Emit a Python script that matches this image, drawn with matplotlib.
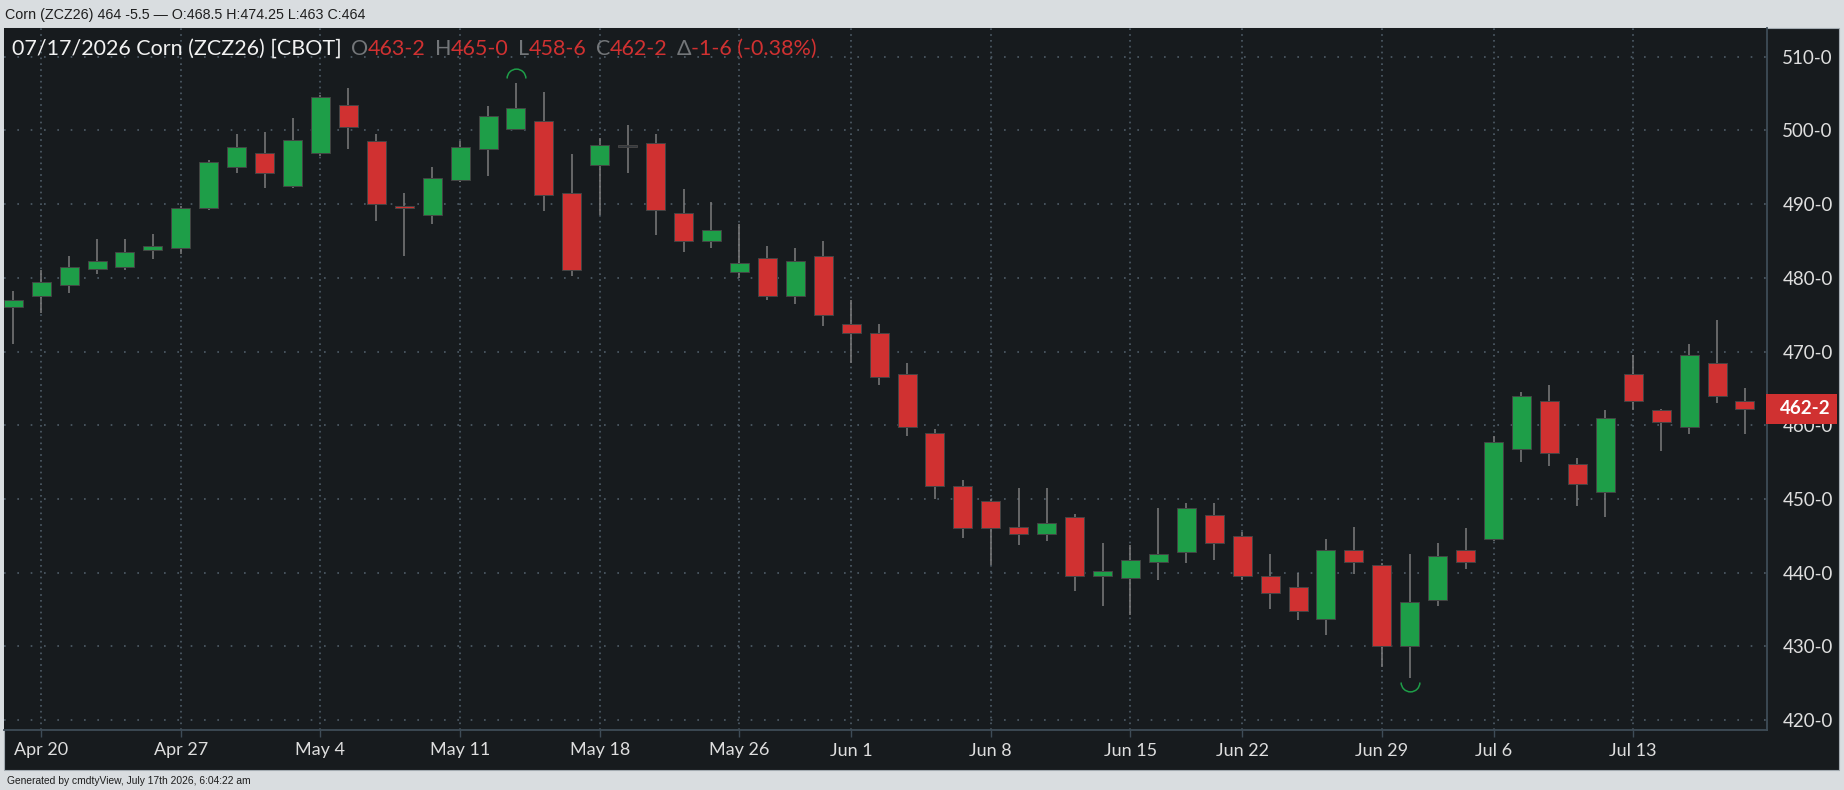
import matplotlib.pyplot as plt
import numpy as np
import pandas as pd
from matplotlib.path import Path
from matplotlib.patches import Rectangle
from matplotlib.ticker import FuncFormatter


# Daily OHLC for Corn (ZCZ26)
dates = [
    "2026-04-17", "2026-04-20", "2026-04-21", "2026-04-22", "2026-04-23", "2026-04-24",
    "2026-04-27", "2026-04-28", "2026-04-29", "2026-04-30", "2026-05-01",
    "2026-05-04", "2026-05-05", "2026-05-06", "2026-05-07", "2026-05-08",
    "2026-05-11", "2026-05-12", "2026-05-13", "2026-05-14", "2026-05-15",
    "2026-05-18", "2026-05-19", "2026-05-20", "2026-05-21", "2026-05-22",
    "2026-05-26", "2026-05-27", "2026-05-28", "2026-05-29",
    "2026-06-01", "2026-06-02", "2026-06-03", "2026-06-04", "2026-06-05",
    "2026-06-08", "2026-06-09", "2026-06-10", "2026-06-11", "2026-06-12",
    "2026-06-15", "2026-06-16", "2026-06-17", "2026-06-18",
    "2026-06-22", "2026-06-23", "2026-06-24", "2026-06-25", "2026-06-26",
    "2026-06-29", "2026-06-30", "2026-07-01", "2026-07-02",
    "2026-07-06", "2026-07-07", "2026-07-08", "2026-07-09", "2026-07-10",
    "2026-07-13", "2026-07-14", "2026-07-15", "2026-07-16", "2026-07-17",
]
opens = [476.0, 477.5, 479.0, 481.25, 481.5, 483.75,
         484.0, 489.5, 495.0, 497.0, 492.5,
         497.0, 503.5, 498.5, 489.75, 488.5,
         493.25, 497.5, 500.25, 501.25, 491.5,
         495.25, 497.75, 498.25, 488.75, 485.0,
         480.75, 482.75, 477.5, 483.0,
         473.75, 472.5, 467.0, 459.0, 451.75,
         449.75, 446.25, 445.25, 447.5, 439.5,
         439.25, 441.5, 442.75, 447.75,
         445.0, 439.5, 438.0, 433.75, 443.0,
         441.0, 430.0, 436.25, 443.0,
         444.5, 456.75, 463.25, 454.75, 451.0,
         467.0, 462.0, 459.75, 468.5, 463.25]
highs = [478.25, 481.0, 483.0, 485.25, 485.25, 486.0,
         489.75, 496.0, 499.5, 499.75, 501.75,
         504.75, 505.75, 499.5, 491.5, 495.0,
         498.5, 503.25, 506.5, 505.25, 496.75,
         499.0, 500.75, 499.5, 492.0, 490.25,
         487.25, 484.25, 484.0, 485.0,
         477.0, 473.75, 468.5, 459.5, 452.5,
         450.0, 451.5, 451.5, 448.0, 444.0,
         443.75, 448.75, 449.5, 449.5,
         445.5, 442.5, 440.0, 444.5, 446.25,
         441.25, 442.5, 444.0, 446.0,
         458.5, 464.5, 465.5, 455.5, 462.0,
         469.5, 462.25, 471.0, 474.25, 465.0]
lows = [471.0, 475.25, 478.0, 480.5, 481.0, 482.5,
        483.25, 489.25, 494.25, 492.25, 492.25,
        496.5, 497.5, 487.75, 483.0, 487.25,
        493.0, 493.75, 500.0, 489.0, 480.25,
        488.5, 494.25, 485.75, 483.5, 484.0,
        480.0, 477.0, 476.5, 473.5,
        468.5, 465.5, 458.5, 450.0, 444.75,
        441.0, 443.75, 444.25, 437.5, 435.5,
        434.25, 439.0, 441.25, 441.75,
        439.0, 435.0, 433.5, 431.5, 439.75,
        427.25, 425.75, 435.5, 440.5,
        444.25, 455.0, 454.5, 449.0, 447.5,
        462.0, 456.5, 458.75, 463.0, 458.75]
closes = [477.0, 479.5, 481.5, 482.25, 483.5, 484.25,
          489.5, 495.75, 497.75, 494.25, 498.75,
          504.5, 500.5, 490.0, 489.5, 493.5,
          497.75, 502.0, 503.0, 491.25, 481.0,
          498.0, 497.75, 489.25, 485.0, 486.5,
          482.0, 477.5, 482.25, 475.0,
          472.5, 466.5, 459.75, 451.75, 446.0,
          446.0, 445.25, 446.75, 439.5, 440.25,
          441.75, 442.5, 448.75, 444.0,
          439.5, 437.25, 434.75, 443.0, 441.5,
          430.0, 436.0, 442.25, 441.5,
          457.75, 464.0, 456.25, 452.0, 461.0,
          463.25, 460.5, 469.5, 464.0, 462.25]

tick_dates = ["2026-04-20", "2026-04-27", "2026-05-04", "2026-05-11", "2026-05-18",
              "2026-05-26", "2026-06-01", "2026-06-08", "2026-06-15", "2026-06-22",
              "2026-06-29", "2026-07-06", "2026-07-13"]
price_ticks = [420, 430, 440, 450, 460, 470, 480, 490, 500, 510]

header_text = "Corn (ZCZ26) 464 -5.5 \u2014 O:468.5 H:474.25 L:463 C:464"
footer_text = "Generated by cmdtyView, July 17th 2026, 6:04:22 am"
title_text = "07/17/2026 Corn (ZCZ26) [CBOT]"


def fmt_price(v, pos=None):
    whole = int(np.floor(v + 1e-9))
    eighths = int(round((v - whole) * 8))
    return f"{whole}-{eighths}"


W, H = 1844, 790
DARK = "#171b1e"
GREEN = "#1e9e48"
RED = "#d03131"
GRID = "#4f5d68"
FRAME = "#3e4c57"
LABEL = "#dedede"

plt.rcParams["font.family"] = ["Lato", "DejaVu Sans"]

fig = plt.figure(figsize=(W / 100, H / 100), dpi=100, facecolor="#d9dde0")
fig.add_artist(Rectangle((4 / W, 1 - 770 / H), (1839 - 4) / W, (770 - 28) / H,
                         transform=fig.transFigure, facecolor=DARK,
                         edgecolor="#a3abb1", lw=0.8, zorder=-5))

ax = fig.add_axes([4 / W, 1 - 730 / H, (1767 - 4) / W, (730 - 28) / H])
ax.set_facecolor(DARK)

o = np.array(opens)
h = np.array(highs)
l = np.array(lows)
c = np.array(closes)
x = np.arange(len(dates))

colors = np.where(c > o, GREEN, np.where(c < o, RED, "#33383d"))
ax.vlines(x, l, h, color="#7c7c7c", lw=1.1, zorder=2)
ax.bar(x, np.maximum(np.abs(c - o), 0.3), bottom=np.minimum(o, c), width=0.68,
       color=colors, edgecolor="#444444", lw=0.7, zorder=3)

# high / low markers
arc_up = Path.arc(0, 180)
arc_dn = Path.arc(180, 360)
ih, il = int(np.argmax(h)), int(np.argmin(l))
ax.plot(x[ih], h[ih] + 0.65, marker=arc_up, markersize=13.5, mfc="none",
        mec=GREEN, mew=1.1, ls="none", zorder=4)
ax.plot(x[il], l[il] - 0.65, marker=arc_dn, markersize=13.5, mfc="none",
        mec=GREEN, mew=1.1, ls="none", zorder=4)

ax.set_xlim(-0.33, 62.79)
ax.set_ylim(418.64, 513.9)

tick_pos = [dates.index(d) for d in tick_dates]
tick_lab = [f"{pd.Timestamp(d):%b} {pd.Timestamp(d).day}" for d in tick_dates]
ax.set_xticks(tick_pos)
ax.set_xticklabels(tick_lab)
ax.set_yticks(price_ticks)
ax.yaxis.set_major_formatter(FuncFormatter(fmt_price))
ax.yaxis.tick_right()

ax.tick_params(axis="x", length=5, width=1, color=FRAME, pad=4,
               labelsize=13, labelcolor=LABEL)
ax.tick_params(axis="y", length=0, pad=11, labelsize=13.5, labelcolor=LABEL)

ax.yaxis.grid(True, color=GRID, lw=1.2, linestyle=(0, (1, 7)))
ax.xaxis.grid(True, color=GRID, lw=1.2, linestyle=(0, (1, 2.5)))
ax.set_axisbelow(True)

for side in ["left", "top"]:
    ax.spines[side].set_visible(False)
for side in ["right", "bottom"]:
    ax.spines[side].set_color(FRAME)
    ax.spines[side].set_linewidth(1.3)

# last price flag
y_disp = ax.transData.transform((0, c[-1]))[1]
fig.add_artist(Rectangle((1766 / W, (y_disp - 15) / H), 71 / W, 30 / H,
                         transform=fig.transFigure, facecolor=RED,
                         edgecolor="none", zorder=5))
fig.text(1831 / W, y_disp / H, fmt_price(c[-1]), ha="right", va="center",
         color="white", fontsize=13.5, fontweight="bold", zorder=6)

# header and footer
fig.text(5 / W, 1 - 19 / H, header_text, fontsize=10.3, color="#1e1e1e",
         family=["Liberation Sans Narrow", "Liberation Sans"], va="baseline")
fig.text(7 / W, 1 - 784 / H, footer_text, fontsize=7.4, color="#1e1e1e",
         family=["Liberation Sans Narrow", "Liberation Sans"], va="baseline")

# title line with OHLC
chg = c[-1] - c[-2]
pct = chg / c[-2] * 100
sign = "-" if chg < 0 else ""
chg_txt = f"{sign}{fmt_price(abs(chg))} ({pct:.2f}%)"
pieces = [(title_text, "#f2f2f2", 9),
          ("O", "#737679", 0), (fmt_price(o[-1]), RED, 9),
          ("H", "#737679", 0), (fmt_price(h[-1]), RED, 9),
          ("L", "#737679", 0), (fmt_price(l[-1]), RED, 9),
          ("C", "#737679", 0), (fmt_price(c[-1]), RED, 9),
          ("\u0394", "#737679", 0), (chg_txt, RED, 0)]
renderer = fig.canvas.get_renderer()
xpos = 12
for txt, col, gap in pieces:
    t = fig.text(xpos / W, 1 - 55 / H, txt, color=col, fontsize=15.5, va="baseline")
    bb = t.get_window_extent(renderer)
    xpos = bb.x1 + gap

fig.savefig("out.png", dpi=100, facecolor=fig.get_facecolor())
